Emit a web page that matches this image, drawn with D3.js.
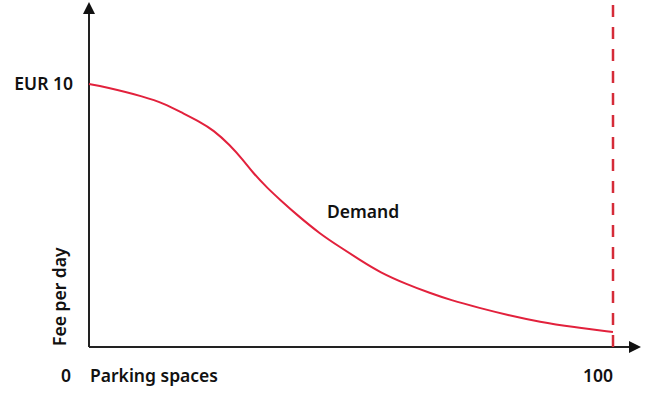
<!DOCTYPE html>
<html>
<head>
<meta charset="utf-8">
<script src="https://cdn.jsdelivr.net/npm/d3@7"></script>
<style>
  body { margin: 0; background: #fff; }
  text { font-family: 'Noto Sans', sans-serif; font-weight: 600; fill: #111; }
</style>
</head>
<body>
<div id="chart"></div>
<script>
// demand curve: parking spaces (0-100) vs fee per day (EUR)
const spaces = [0, 3, 10.7, 14.5, 17.4, 21.2, 23.7, 26.9, 29.4, 31.3, 34, 36.5, 39.7, 44.1, 47.9, 51.7, 55.5, 60.7, 65.1, 68.9, 74.6, 79.8, 86.1, 92.4, 100]
const fees = [10, 9.89, 9.51, 9.24, 8.94, 8.56, 8.25, 7.68, 7.11, 6.62, 6.05, 5.59, 5.02, 4.3, 3.8, 3.31, 2.84, 2.38, 2.05, 1.79, 1.48, 1.22, 0.95, 0.76, 0.57]
const capacity = 100
const maxFee = 10

const W = 646
const H = 394
const margin = { top: 84, right: 33, bottom: 47, left: 89 }

const svg = d3.select('#chart')
  .append('svg')
  .attr('width', W)
  .attr('height', H)

const x = d3.scaleLinear()
  .domain([0, capacity])
  .range([margin.left, W - margin.right])
const y = d3.scaleLinear()
  .domain([0, maxFee])
  .range([H - margin.bottom, margin.top])

// arrow heads
const defs = svg.append('defs')
defs.append('marker')
  .attr('id', 'arrow')
  .attr('viewBox', '0 0 10 10')
  .attr('refX', 0)
  .attr('refY', 5)
  .attr('markerWidth', 7)
  .attr('markerHeight', 6)
  .attr('markerUnits', 'strokeWidth')
  .attr('orient', 'auto')
  .append('path')
  .attr('d', 'M0,0 L10,5 L0,10 Z')
  .attr('fill', '#111')

// axes
svg.append('line')
  .attr('x1', x(0)).attr('y1', y(0))
  .attr('x2', x(0)).attr('y2', 14)
  .attr('stroke', '#222')
  .attr('stroke-width', 2)
  .attr('marker-end', 'url(#arrow)')
svg.append('line')
  .attr('x1', x(0)).attr('y1', y(0))
  .attr('x2', 629).attr('y2', y(0))
  .attr('stroke', '#222')
  .attr('stroke-width', 2)
  .attr('marker-end', 'url(#arrow)')

// capacity line
svg.append('line')
  .attr('x1', x(capacity)).attr('y1', y(0))
  .attr('x2', x(capacity)).attr('y2', 2)
  .attr('stroke', '#d52b38')
  .attr('stroke-width', 2.5)
  .attr('stroke-dasharray', '12,10')

// demand curve
const pts = spaces.map((s, i) => ({ s: s, f: fees[i] }))
svg.append('path')
  .datum(pts)
  .attr('fill', 'none')
  .attr('stroke', '#e2213c')
  .attr('stroke-width', 2)
  .attr('d', d3.line()
    .x(d => x(d.s))
    .y(d => y(d.f))
    .curve(d3.curveBasis))

// labels
svg.append('text')
  .attr('x', x(0) - 16)
  .attr('y', y(maxFee) + 6)
  .attr('text-anchor', 'end')
  .attr('font-size', 17.5)
  .text('EUR 10')

svg.append('text')
  .attr('x', 66)
  .attr('y', 382)
  .attr('text-anchor', 'middle')
  .attr('font-size', 17.5)
  .text('0')

svg.append('text')
  .attr('x', x(0) + 1)
  .attr('y', 382)
  .attr('font-size', 17.5)
  .text('Parking spaces')

svg.append('text')
  .attr('x', x(capacity))
  .attr('y', 382)
  .attr('text-anchor', 'end')
  .attr('font-size', 17.5)
  .text('100')

svg.append('text')
  .attr('transform', 'translate(66,' + (y(0) - 1) + ') rotate(-90)')
  .attr('font-size', 17.5)
  .text('Fee per day')

svg.append('text')
  .attr('x', 327)
  .attr('y', 218)
  .attr('font-size', 17.5)
  .text('Demand')
</script>
</body>
</html>
